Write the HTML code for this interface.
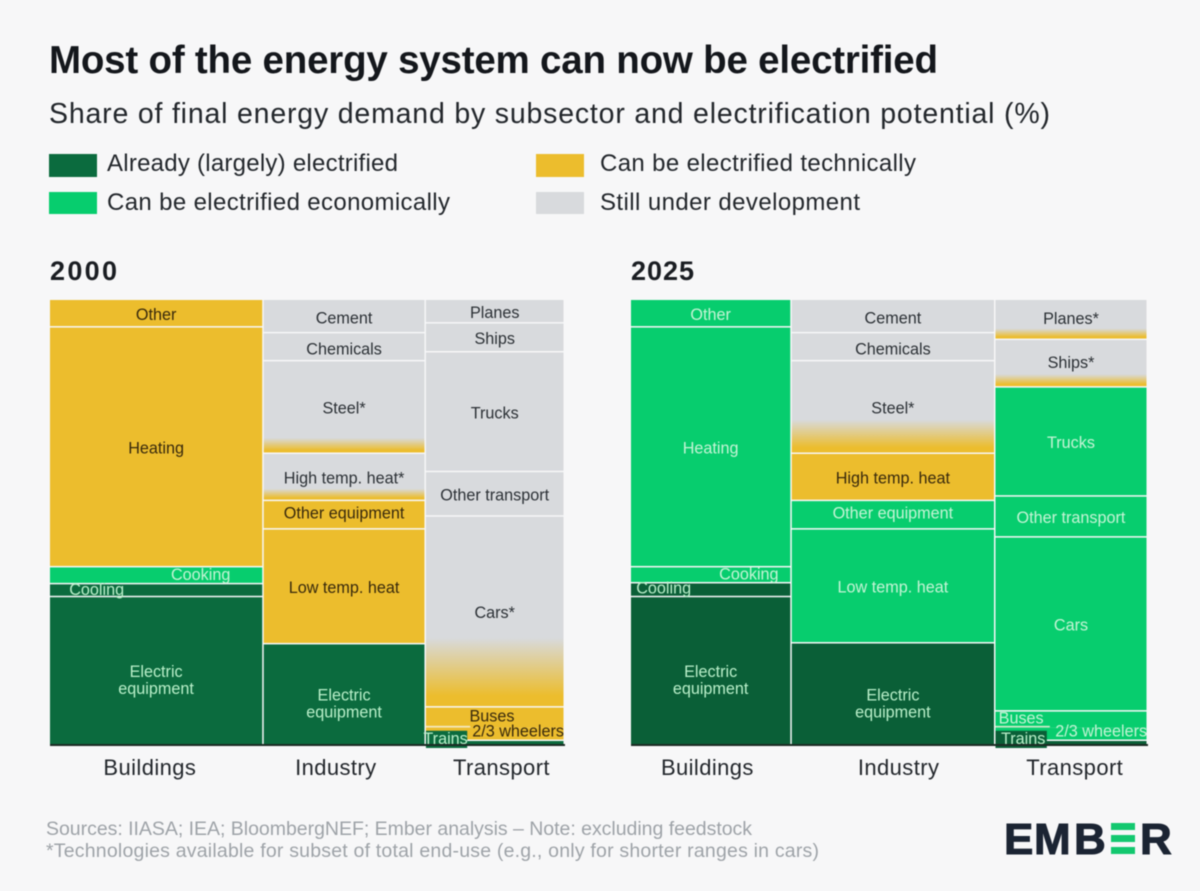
<!DOCTYPE html>
<html lang="en">
<head>
<meta charset="utf-8">
<title>Most of the energy system can now be electrified</title>
<style>
html,body{margin:0;padding:0;background:#f7f7f8;width:1200px;height:891px;overflow:hidden}
svg{display:block;font-family:"Liberation Sans",sans-serif;filter:blur(0.4px)}
</style>
</head>
<body>
<svg id="chart" width="1200" height="891" viewBox="0 0 1200 891" xmlns="http://www.w3.org/2000/svg">
  <rect width="1200" height="891" fill="#f7f7f8"/>
  <text x="49" y="73" font-size="38.5" font-weight="700" fill="#14171c" textLength="889">Most of the energy system can now be electrified</text>
  <text x="49" y="123" font-size="28.5" fill="#23272c" textLength="1001">Share of final energy demand by subsector and electrification potential (%)</text>

  <g>
    <g>
      <rect x="49" y="154" width="48" height="23" fill="#0b6b3e"/>
      <text x="107" y="171" font-size="24" fill="#23272c" textLength="291">Already (largely) electrified</text>
    </g>
    <g>
      <rect x="49" y="192" width="48" height="22" fill="#07cd6e"/>
      <text x="107" y="210" font-size="24" fill="#23272c" textLength="343">Can be electrified economically</text>
    </g>
    <g>
      <rect x="536" y="154" width="48" height="23" fill="#ecbd2d"/>
      <text x="600" y="171" font-size="24" fill="#23272c" textLength="316">Can be electrified technically</text>
    </g>
    <g>
      <rect x="536" y="192" width="48" height="22" fill="#d8dadd"/>
      <text x="600" y="210" font-size="24" fill="#23272c" textLength="260">Still under development</text>
    </g>
  </g>

  <text x="50" y="280" font-size="27" font-weight="700" fill="#1a1d22" textLength="67">2000</text>
  <text x="631" y="280" font-size="27" font-weight="700" fill="#1a1d22" textLength="63">2025</text>

  <g id="panel-2000"></g>
  <g id="panel-2025"></g>

  <text x="46" y="835" font-size="19.5" fill="#9ea3a8" textLength="706">Sources: IIASA; IEA; BloombergNEF; Ember analysis – Note: excluding feedstock</text>
  <text x="46" y="857" font-size="19.5" fill="#9ea3a8" textLength="773">*Technologies available for subset of total end-use (e.g., only for shorter ranges in cars)</text>

  <g>
    <text x="1004 1034 1074" y="854" font-size="44" font-weight="700" fill="#1b2433" stroke="#1b2433" stroke-width="1">EMB</text>
    <rect x="1111" y="823" width="24" height="7" fill="#13c86f"/>
    <rect x="1111" y="835" width="24" height="7" fill="#13c86f"/>
    <rect x="1111" y="847" width="24" height="7" fill="#13c86f"/>
    <text x="1140" y="854" font-size="44" font-weight="700" fill="#1b2433" stroke="#1b2433" stroke-width="1">R</text>
  </g>
</svg>

<script>
// ---------- data ----------
const sectors = ['Buildings', 'Industry', 'Transport'];
const sectorShare2000 = [41.5, 31.5, 27.0];
const sectorShare2025 = [31.1, 39.4, 29.5];

const buildingLabels2000 = ['Other', 'Heating', 'Cooking', 'Cooling', 'Electric equipment'];
const buildingValues2000 = [6.2, 53.9, 3.8, 2.9, 33.2];
const buildingClasses2000 = ['T', 'T', 'E', 'A', 'A'];
const buildingFade2000 = [0, 0, 0, 0, 0];

const industryLabels2000 = ['Cement', 'Chemicals', 'Steel*', 'High temp. heat*', 'Other equipment', 'Low temp. heat', 'Electric equipment'];
const industryValues2000 = [7.5, 6.3, 20.8, 10.6, 6.4, 25.8, 22.6];
const industryClasses2000 = ['D', 'D', 'D', 'D', 'T', 'T', 'A'];
const industryFade2000 = [0, 0, 16, 24, 0, 0, 0];

const transportLabels2000 = ['Planes', 'Ships', 'Trucks', 'Other transport', 'Cars*', 'Buses', '2/3 wheelers', ''];
const transportValues2000 = [5.3, 6.5, 26.9, 10.0, 42.9, 4.5, 3.0, 0.9];
const transportClasses2000 = ['D', 'D', 'D', 'D', 'D', 'T', 'T', 'A'];
const transportFade2000 = [0, 0, 0, 0, 36, 0, 0, 0];

const buildingLabels2025 = ['Other', 'Heating', 'Cooking', 'Cooling', 'Electric equipment'];
const buildingValues2025 = [6.2, 53.9, 3.6, 3.1, 33.2];
const buildingClasses2025 = ['E', 'E', 'E', 'A', 'A'];
const buildingFade2025 = [0, 0, 0, 0, 0];

const industryLabels2025 = ['Cement', 'Chemicals', 'Steel*', 'High temp. heat', 'Other equipment', 'Low temp. heat', 'Electric equipment'];
const industryValues2025 = [7.5, 6.3, 20.8, 10.6, 6.4, 25.6, 22.8];
const industryClasses2025 = ['D', 'D', 'D', 'T', 'E', 'E', 'A'];
const industryFade2025 = [0, 0, 36, 0, 0, 0, 0];

const transportLabels2025 = ['Planes*', 'Ships*', 'Trucks', 'Other transport', 'Cars', 'Buses', '2/3 wheelers', ''];
const transportValues2025 = [9.0, 10.7, 24.5, 9.2, 39.1, 3.6, 3.0, 0.9];
const transportClasses2025 = ['D', 'D', 'E', 'E', 'E', 'E', 'E', 'A'];
const transportFade2025 = [26, 26, 0, 0, 0, 0, 0, 0];

const trainsLabel = 'Trains';
const trainsValue2000 = 3.2;
const trainsWidthShare2000 = 30;
const trainsValue2025 = 3.2;
const trainsWidthShare2025 = 34;

// ---------- layout and styling ----------
const SVG_NS = 'http://www.w3.org/2000/svg';
const PANEL_TOP = 300;
const PANEL_HEIGHT = 445;
const LABEL_SIZE = 16.2;
const fills = { A: '#0b6b3e', E: '#07cd6e', T: '#ecbd2d', D: '#d8dadd' };
const inks = { A: '#b9efc9', E: '#c4f4d5', T: '#38290c', D: '#2b3035' };
const fills2025 = { A: '#0a5f37', E: '#07cd6e', T: '#ecbd2d', D: '#d8dadd' };

function yScale(percent) { return PANEL_TOP + PANEL_HEIGHT * percent / 100; }
function xScaler(left, width) { return function (percent) { return left + width * percent / 100; }; }
function slug(text) { return text.toLowerCase().replace(/[^a-z0-9]+/g, '-').replace(/^-|-$/g, ''); }

function make(tag, attrs, parent) {
  const node = document.createElementNS(SVG_NS, tag);
  Object.keys(attrs).forEach(function (k) { node.setAttribute(k, attrs[k]); });
  parent.appendChild(node);
  return node;
}

function labelFractionX(year, label) {
  if (label === 'Cooking') return year === 2000 ? 0.71 : 0.74;
  if (label === 'Cooling') return year === 2000 ? 0.22 : 0.205;
  if (label === 'Buses') return year === 2000 ? 0.48 : 0.17;
  if (label === '2/3 wheelers') return year === 2000 ? 0.67 : 0.70;
  return 0.5;
}
function labelShiftY(year, label) {
  if (label === 'Cooling') return year === 2000 ? -1 : -2;
  if (label === 'Cooking') return -1;
  if (label === 'Other equipment') return -2;
  if (label === 'Planes*' || label === 'Ships*') return -1;
  if (label === '2/3 wheelers') return -3;
  if (label === 'Buses') return -1;
  if (label === 'Cement' || label === 'Chemicals') return 2;
  return 1;
}
const axisLabelShift = { 2000: [-7, -9, 6], 2025: [-4, 5, 3] };

function drawPanel(spec) {
  const root = document.getElementById('panel-' + spec.year);
  const x = xScaler(spec.left, spec.width);
  let cumX = 0;
  spec.columns.forEach(function (col, c) {
    const x0 = x(cumX);
    const x1 = x(cumX + spec.shares[c]);
    const colW = x1 - x0 - 1.5;
    const group = make('g', {}, root);
    
    
    let cum = 0;
    col.values.forEach(function (value, i) {
      const y0 = yScale(cum);
      const y1 = yScale(cum + value);
      const label = col.labels[i];
      const cls = col.classes[i];
      const fade = col.fade[i];
      const joined = label === 'Buses' || i === col.values.length - 1;
      const h = y1 - y0 - (joined ? 0 : 1.5);
      let fill = spec.palette[cls];
      if (fade > 0) {
        const gradId = 'fade-' + spec.year + '-' + c + '-' + i;
        const grad = make('linearGradient', { id: gradId, x1: 0, y1: 0, x2: 0, y2: 1 }, root);
        make('stop', { offset: (100 - fade) + '%', 'stop-color': fills.D }, grad);
        make('stop', { offset: (100 - fade * 0.15) + '%', 'stop-color': fills.T }, grad);
        fill = 'url(#' + gradId + ')';
      }
      const rect = make('rect', { x: x0, y: y0, width: colW, height: h, fill: fill }, group);
      
      
      if (label) {
        const tx = x0 + colW * labelFractionX(spec.year, label);
        const ty = (y0 + y1) / 2 + labelShiftY(spec.year, label) + 5;
        const text = make('text', { x: tx, y: ty, 'text-anchor': 'middle', 'font-size': LABEL_SIZE, fill: inks[cls] }, root);
        
        
        const words = label === 'Electric equipment' ? ['Electric', 'equipment'] : [label];
        words.forEach(function (word, w) {
          const line = make('tspan', { x: tx, dy: w === 0 ? 0 : 17 }, text);
          line.textContent = word;
        });
      }
      cum += value;
    });
    if (c === 2) {
      const trainsW = colW * spec.trainsShare / 100;
      const trainsTop = yScale(100 - spec.trainsValue);
      const sep = make('rect', { x: x0, y: yScale(100 - spec.trainsValue - 1.1), width: trainsW + 3, height: 1.5, fill: '#f4efd9', opacity: 0.9 }, group);
      
      
      const trains = make('rect', { x: x0, y: trainsTop, width: trainsW, height: yScale(100) - trainsTop + 3, fill: spec.palette.A }, group);
      
      
      const trainsText = make('text', { x: x0 + trainsW / 2 + (spec.year === 2000 ? -1 : 2), y: trainsTop + 13, 'text-anchor': 'middle', 'font-size': LABEL_SIZE, fill: inks.A }, root);
      
      
      trainsText.textContent = trainsLabel;
    }
    const axisText = make('text', { x: (x0 + x1) / 2 + axisLabelShift[spec.year][c], y: 775, 'text-anchor': 'middle', 'font-size': 22, 'letter-spacing': 0.4, fill: '#23272c' }, root);
    
    
    axisText.textContent = sectors[c];
    cumX += spec.shares[c];
  });
  const base = make('rect', { x: spec.left, y: yScale(100) - 1, width: spec.width, height: 2, fill: '#1c2b24' }, root);
  
  
}

drawPanel({
  year: 2000, left: 50, width: 515, palette: fills, shares: sectorShare2000,
  trainsValue: trainsValue2000, trainsShare: trainsWidthShare2000,
  columns: [
    { labels: buildingLabels2000, values: buildingValues2000, classes: buildingClasses2000, fade: buildingFade2000 },
    { labels: industryLabels2000, values: industryValues2000, classes: industryClasses2000, fade: industryFade2000 },
    { labels: transportLabels2000, values: transportValues2000, classes: transportClasses2000, fade: transportFade2000 }
  ]
});
drawPanel({
  year: 2025, left: 631, width: 517, palette: fills2025, shares: sectorShare2025,
  trainsValue: trainsValue2025, trainsShare: trainsWidthShare2025,
  columns: [
    { labels: buildingLabels2025, values: buildingValues2025, classes: buildingClasses2025, fade: buildingFade2025 },
    { labels: industryLabels2025, values: industryValues2025, classes: industryClasses2025, fade: industryFade2025 },
    { labels: transportLabels2025, values: transportValues2025, classes: transportClasses2025, fade: transportFade2025 }
  ]
});
</script>
</body>
</html>
